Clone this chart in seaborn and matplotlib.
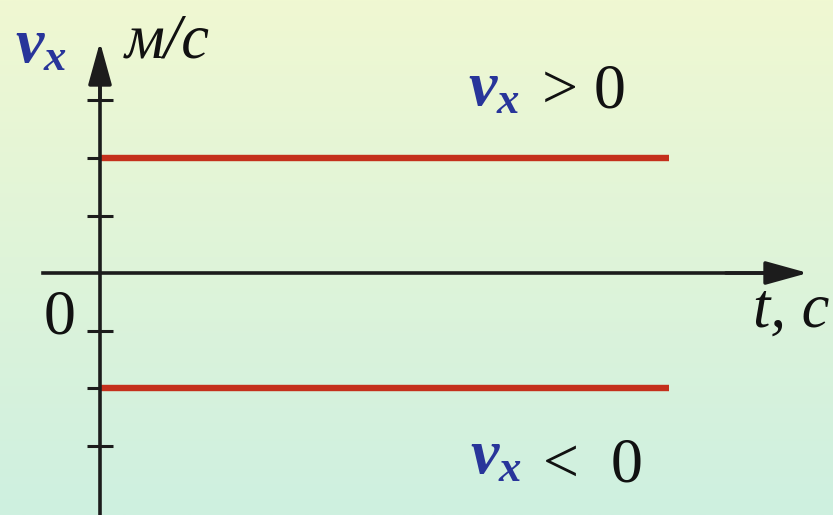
import numpy as np
import pandas as pd
import seaborn as sns
import matplotlib.pyplot as plt

# Данные графика: скорость постоянна, v_x > 0 и v_x < 0
t_vals = [0, 10]
v_pos = [2, 2]
v_neg = [-2, -2]
y_ticks = [-3, -2, -1, 1, 2, 3]

red = '#c4301c'
axis_col = '#1c1c1c'
blue = '#28359a'

sns.set_theme(style='white')
plt.rcParams['font.family'] = ['Liberation Serif', 'DejaVu Serif']
plt.rcParams['mathtext.fontset'] = 'custom'
plt.rcParams['mathtext.it'] = 'Liberation Serif:italic:bold'
plt.rcParams['mathtext.rm'] = 'Liberation Serif'

fig = plt.figure(figsize=(8.33, 5.15), dpi=100)
ax = fig.add_axes([0, 0, 1, 1])

# масштаб: px на единицу по t и по v, начало координат в (100, 273) px
ux = 56.9
uy = 57.5
ax.set_xlim(-100 / ux, 733 / ux)
ax.set_ylim(-242 / uy, 273 / uy)

# Фон - вертикальный градиент
top = np.array([240, 248, 210]) / 255
bot = np.array([206, 240, 224]) / 255
g = np.linspace(0, 1, 256)[:, None]
grad = (top[None, :] * (1 - g) + bot[None, :] * g)[:, None, :]
ax.imshow(grad, extent=[-100 / ux, 733 / ux, -242 / uy, 273 / uy], aspect='auto', zorder=0)

df = pd.DataFrame({
    't': t_vals + t_vals,
    'v': v_pos + v_neg,
    'знак': ['>0'] * 2 + ['<0'] * 2,
})
sns.lineplot(data=df, x='t', y='v', hue='знак', palette=[red, red], lw=4.6,
             legend=False, ax=ax, zorder=3, solid_capstyle='butt')

# Оси
for s in ['top', 'right']:
    ax.spines[s].set_visible(False)
ax.spines['left'].set_position(('data', 0))
ax.spines['bottom'].set_position(('data', 0))
ax.spines['left'].set_bounds(-242 / uy, 3.5)
ax.spines['bottom'].set_bounds(-57 / ux, 11.8)
for s in ['left', 'bottom']:
    ax.spines[s].set_color(axis_col)
    ax.spines[s].set_linewidth(2.6)
    ax.spines[s].set_zorder(4)

ax.set_xticks([])
ax.set_yticks(y_ticks)
ax.set_yticklabels([])
ax.tick_params(axis='y', direction='inout', length=19, width=2.2, color=axis_col, left=True)
ax.set_xlabel('')
ax.set_ylabel('')

arrow = dict(arrowstyle='-|>,head_length=1.3,head_width=0.36', mutation_scale=20,
             lw=2.6, color=axis_col, shrinkA=0, shrinkB=0)
ax.annotate('', xy=(0, (273 - 42) / uy), xytext=(0, 3.0), arrowprops=arrow, zorder=5)
ax.annotate('', xy=((808 - 100) / ux, 0), xytext=(11.0, 0), arrowprops=arrow, zorder=5)

# Подписи
ax.text(-85 / ux, (273 - 62) / uy, r'$v_x$', color=blue, fontsize=46, va='baseline', ha='left')
ax.text(25 / ux, (273 - 57) / uy, 'м/с', color='#111111', fontsize=45, style='italic',
        va='baseline', ha='left')
ax.text(-25 / ux, (273 - 333) / uy, '0', color='#111111', fontsize=46, va='baseline', ha='right')
ax.text(653 / ux, (273 - 327) / uy, 't, c', color='#111111', fontsize=45, style='italic',
        va='baseline', ha='left')

ax.text(368 / ux, (273 - 105) / uy, r'$v_x$', color=blue, fontsize=46, va='baseline', ha='left')
ax.text(442 / ux, (273 - 107) / uy, '> 0', color='#111111', fontsize=46, va='baseline', ha='left')
ax.text(370 / ux, (273 - 473) / uy, r'$v_x$', color=blue, fontsize=46, va='baseline', ha='left')
ax.text(443 / ux, (273 - 482) / uy, '<  0', color='#111111', fontsize=46, va='baseline', ha='left')

plt.savefig('out.png', dpi=100)
